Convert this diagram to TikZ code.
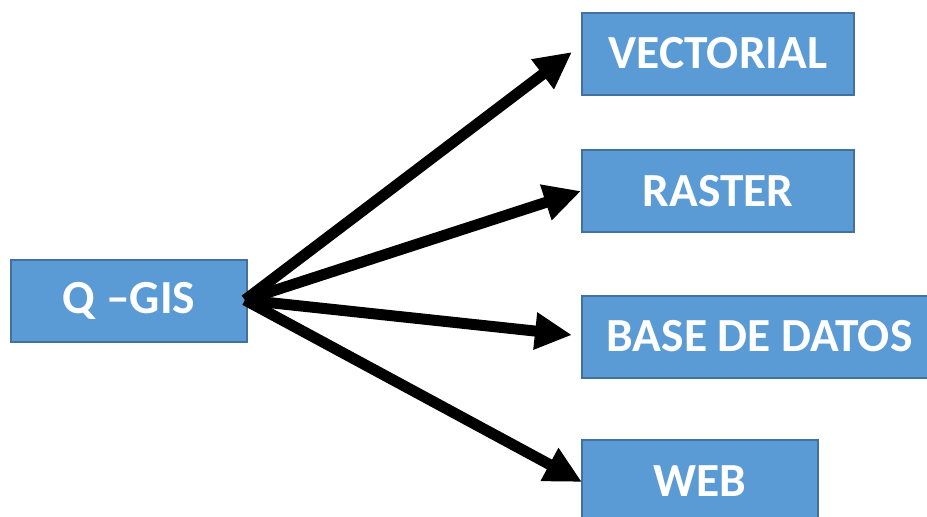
\documentclass[tikz,border=0pt]{standalone}
\usepackage{fontspec}
\setmainfont{Carlito}
\usetikzlibrary{arrows.meta,calc}
\definecolor{cajaazul}{HTML}{5B9BD5}
\definecolor{bordeazul}{HTML}{41719C}
\tikzset{
	caja/.style={draw=bordeazul, line width=2pt, fill=cajaazul, text=white, inner sep=0pt,
		minimum height=82pt, font=\fontsize{47.5}{56}\selectfont\bfseries},
	flecha/.style={line width=11pt, -{Triangle[length=37pt,width=35pt]}}
}
\begin{document}
\begin{tikzpicture}[x=1pt,y=-1pt]
	\useasboundingbox (0,0) rectangle (927,517);
	
	\node[caja, minimum width=236pt] (qgis) at (129,301) {Q –GIS};
	\node[caja, minimum width=272pt] (vect) at (718,53.5) {VECTORIAL};
	\node[caja, minimum width=272pt] (raster) at (718,191) {RASTER};
	\node[caja, minimum width=355pt] (bd) at (759.5,336.5) {BASE DE DATOS};
	\node[caja, minimum width=236pt] (web) at (700,481) {WEB};
	
	\draw[flecha] ($(qgis.east)+(-3,-1)$) -- ($(vect.west)+(-9,-1.5)$);
	\draw[flecha] ($(qgis.east)+(-3,-1)$) -- (raster.west);
	\draw[flecha] ($(qgis.east)+(-3,-1)$) -- ($(bd.west)+(-9,-1.5)$);
	\draw[flecha] ($(qgis.east)+(-3,-1)$) -- ($(web.west)+(1,1)$);
\end{tikzpicture}
\end{document}
